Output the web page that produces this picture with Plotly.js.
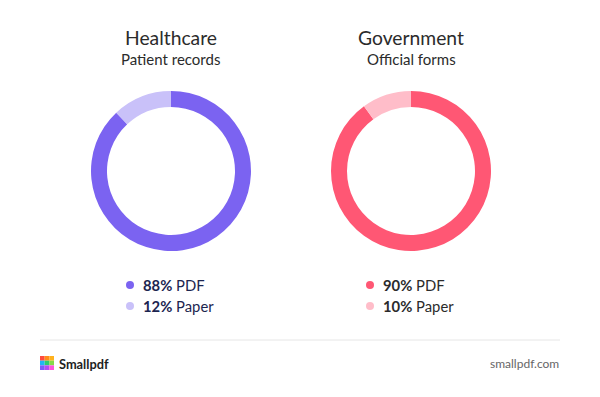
<!DOCTYPE html>
<html>
<head>
<meta charset="utf-8">
<script src="https://cdn.plot.ly/plotly-3.0.1.min.js"></script>
<style>
html,body{margin:0;padding:0;background:#fff;}
#chart{width:600px;height:397px;}
</style>
</head>
<body>
<div id="chart"></div>
<script>
// ---- data ----
const sectors = ["Healthcare", "Government"];
const subtitles = ["Patient records", "Official forms"];
const formats = ["PDF", "Paper"];
const healthcareValues = [88, 12];
const governmentValues = [90, 10];
const healthcareColors = ["#7B63F1", "#C9C1F9"];
const governmentColors = ["#FF5774", "#FFBDC9"];
const footerLeft = "Smallpdf";
const footerRight = "smallpdf.com";

const W = 600, H = 397;
const px = x => x / W;
const py = y => 1 - y / H;

const centersX = [171, 411];
const cy = 171, R = 80;
const allValues = [healthcareValues, governmentValues];
const allColors = [healthcareColors, governmentColors];

const traces = sectors.map((s, i) => ({
  type: "pie",
  labels: formats,
  values: allValues[i],
  hole: 0.8,
  sort: false,
  direction: "clockwise",
  rotation: 0,
  textinfo: "none",
  hoverinfo: "label+percent",
  showlegend: false,
  marker: {colors: allColors[i], line: {width: 0}},
  domain: {x: [px(centersX[i] - R), px(centersX[i] + R)], y: [py(cy + R), py(cy - R)]}
}));

const annotations = [];
const shapes = [];
const font = "Lato, 'Open Sans', sans-serif";
sectors.forEach((s, i) => {
  annotations.push({text: s, x: px(centersX[i]), y: py(37), xref: "paper", yref: "paper",
    showarrow: false, xanchor: "center", yanchor: "middle",
    font: {family: font, size: 19.3, color: "#2b2b2b"}});
  annotations.push({text: subtitles[i], x: px(centersX[i]), y: py(59), xref: "paper", yref: "paper",
    showarrow: false, xanchor: "center", yanchor: "middle",
    font: {family: font, size: 15, color: "#2b2b2b"}});
  const total = allValues[i].reduce((a, b) => a + b, 0);
  formats.forEach((f, j) => {
    const yy = 285 + j * 21;
    const dotX = centersX[i] - 41;
    shapes.push({type: "circle", xref: "paper", yref: "paper",
      x0: px(dotX - 4), x1: px(dotX + 4), y0: py(yy + 4), y1: py(yy - 4),
      fillcolor: allColors[i][j], line: {width: 0}});
    const pct = Math.round(allValues[i][j] / total * 100);
    annotations.push({text: "<b>" + pct + "%</b> " + f, x: px(dotX + 10.5), y: py(yy), xref: "paper", yref: "paper",
      showarrow: false, xanchor: "left", yanchor: "middle",
      font: {family: font, size: 14.8, color: i === 0 ? "#1c2550" : "#2b2b2b"}});
  });
});

// footer separator
shapes.push({type: "line", xref: "paper", yref: "paper", x0: px(40), x1: px(560), y0: py(340), y1: py(340),
  line: {color: "#e6e6e6", width: 1}});
// logo grid
const logoColors = [["#FF4B3E", "#FF8C1A", "#FFB21E"], ["#1FB6F5", "#2ECC71", "#86D94A"], ["#7C5CFA", "#B34DF3", "#FF52DC"]];
logoColors.forEach((row, r) => row.forEach((c, k) => {
  shapes.push({type: "rect", xref: "paper", yref: "paper",
    x0: px(40 + k * 4.67), x1: px(40 + (k + 1) * 4.67),
    y0: py(356 + (r + 1) * 4.67), y1: py(356 + r * 4.67),
    fillcolor: c, line: {width: 0}});
}));
annotations.push({text: "<b>" + footerLeft + "</b>", x: px(56.5), y: py(363.5), xref: "paper", yref: "paper",
  showarrow: false, xanchor: "left", yanchor: "middle",
  font: {family: font, size: 12.8, color: "#1e1e1e"}});
annotations.push({text: footerRight, x: px(561), y: py(363.5), xref: "paper", yref: "paper",
  showarrow: false, xanchor: "right", yanchor: "middle",
  font: {family: font, size: 12, color: "#666666"}});

const layout = {
  width: W, height: H,
  margin: {l: 0, r: 0, t: 0, b: 0},
  paper_bgcolor: "#ffffff",
  plot_bgcolor: "#ffffff",
  showlegend: false,
  annotations: annotations,
  shapes: shapes
};
Plotly.newPlot("chart", traces, layout, {displayModeBar: false, staticPlot: true});
</script>
</body>
</html>
